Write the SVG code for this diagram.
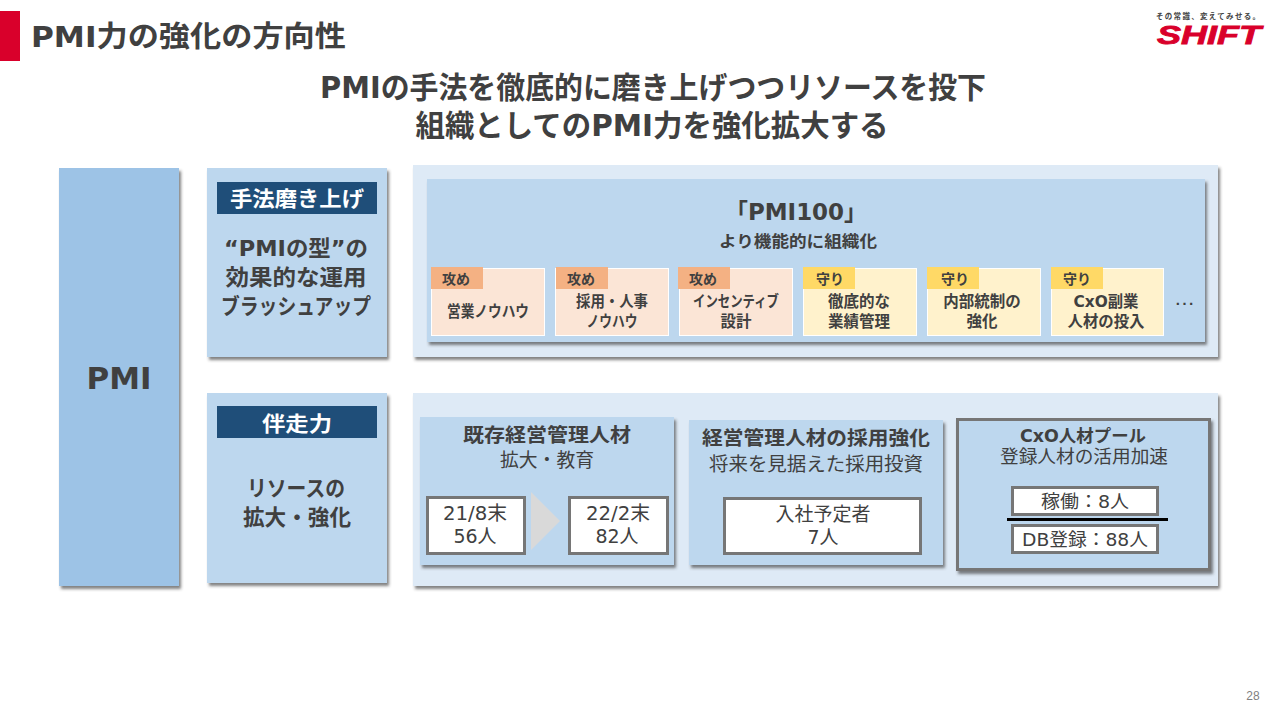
<svg xmlns="http://www.w3.org/2000/svg" width="1280" height="720" viewBox="0 0 1280 720">
<style>
text{font-family:"DejaVu Sans","Noto Sans CJK JP",sans-serif;fill:#404040;text-anchor:middle}
.b{font-weight:700}
.m{font-weight:700}
.r{font-weight:400}
.hd{fill:#1f4e79}
.ht{fill:#fff;font-size:21px}
.lt{font-size:22px}
.bl{fill:#bdd7ee}
.pale{fill:#deeaf6}
.wb{fill:#fff;stroke:#767676;stroke-width:3}
.sh{filter:url(#s)}
.o{fill:#fbe5d6;stroke:#fff;stroke-width:1}
.y{fill:#fff2cc;stroke:#fff;stroke-width:1}
.ot{fill:#f4b183}
.yt{fill:#ffd966}
.tag{font-size:14px;text-anchor:start}
.cd{font-size:15.5px}
.sub{font-size:19px}
.num{font-size:19px}
</style>
<defs>
<filter id="s" x="-5%" y="-5%" width="112%" height="112%"><feDropShadow dx="2" dy="3" stdDeviation="1.4" flood-color="#404040" flood-opacity="0.65"/></filter>
</defs>
<rect width="1280" height="720" fill="#fff"/>
<g id="header">
<rect x="0" y="11" width="20" height="50" fill="#d9002b"/>
<text class="m" x="188.500" y="47" font-size="29" textLength="315" lengthAdjust="spacingAndGlyphs">PMI力の強化の方向性</text>
<text class="m" x="653" y="98" font-size="30" textLength="666" lengthAdjust="spacingAndGlyphs">PMIの手法を徹底的に磨き上げつつリソースを投下</text>
<text class="m" x="652" y="136" font-size="30" textLength="473" lengthAdjust="spacingAndGlyphs">組織としてのPMI力を強化拡大する</text>
</g>
<g id="logo">
<text class="m" x="1208" y="19" font-size="7.500" style="fill:#444" textLength="104">その常識、変えてみせる。</text>
<text x="1209" y="44" font-size="25" font-style="italic" font-weight="700" style="font-family:'Liberation Sans',sans-serif;fill:#d9002b;stroke:#d9002b;stroke-width:.8" textLength="104" lengthAdjust="spacingAndGlyphs">SHIFT</text>
</g>
<g id="pmi"><rect class="sh" x="59" y="168" width="120" height="418" fill="#9dc3e6"/><text class="b" x="119" y="389" font-size="31" textLength="65" lengthAdjust="spacingAndGlyphs">PMI</text></g>
<g id="method">
<rect class="sh bl" x="207" y="168" width="180" height="189"/>
<rect class="hd" x="217" y="182" width="160" height="32"/>
<text class="m ht" x="297" y="206" textLength="134" lengthAdjust="spacingAndGlyphs">手法磨き上げ</text>
<text class="m lt" x="296" y="256" textLength="144" lengthAdjust="spacingAndGlyphs">“PMIの型”の</text>
<text class="m lt" x="296" y="285" textLength="141" lengthAdjust="spacingAndGlyphs">効果的な運用</text>
<text class="m lt" x="296" y="314" textLength="150" lengthAdjust="spacingAndGlyphs">ブラッシュアップ</text>
</g>
<g id="partner">
<rect class="sh bl" x="207" y="393" width="180" height="190"/>
<rect class="hd" x="217" y="406" width="160" height="32"/>
<text class="m ht" x="297" y="431" textLength="70" lengthAdjust="spacingAndGlyphs">伴走力</text>
<text class="m lt" x="296" y="496" textLength="98" lengthAdjust="spacingAndGlyphs">リソースの</text>
<text class="m lt" x="297" y="525" textLength="108" lengthAdjust="spacingAndGlyphs">拡大・強化</text>
</g>
<g id="panel-top"><rect class="sh pale" x="413" y="165" width="805" height="192"/></g>
<g id="pmi100">
<rect class="sh bl" x="427" y="179" width="778" height="163"/>
<text class="b" x="796" y="220" font-size="23" textLength="142" lengthAdjust="spacingAndGlyphs">「PMI100」</text>
<text class="m" x="798" y="247" font-size="16" textLength="158" lengthAdjust="spacingAndGlyphs">より機能的に組織化</text>
</g>
<g id="card1"><rect class="o" x="431.500" y="268.500" width="113" height="67"/><rect class="ot" x="431" y="267" width="52" height="22"/><text class="m tag" x="442" y="284">攻め</text><text class="m cd" x="488" y="317" textLength="82" lengthAdjust="spacingAndGlyphs">営業ノウハウ</text></g>
<g id="card2"><rect class="o" x="555.500" y="268.500" width="113" height="67"/><rect class="ot" x="556" y="267" width="52" height="22"/><text class="m tag" x="567" y="284">攻め</text><text class="m cd" x="612" y="307" textLength="72" lengthAdjust="spacingAndGlyphs">採用・人事</text><text class="m cd" x="612" y="327" textLength="51" lengthAdjust="spacingAndGlyphs">ノウハウ</text></g>
<g id="card3"><rect class="o" x="679.500" y="268.500" width="113" height="67"/><rect class="ot" x="678" y="267" width="52" height="22"/><text class="m tag" x="689" y="284">攻め</text><text class="m cd" x="736" y="307" textLength="86" lengthAdjust="spacingAndGlyphs">インセンティブ</text><text class="m cd" x="736" y="327">設計</text></g>
<g id="card4"><rect class="y" x="803.500" y="268.500" width="113" height="67"/><rect class="yt" x="803" y="267" width="52" height="22"/><text class="m tag" x="816" y="284">守り</text><text class="m cd" x="859" y="307">徹底的な</text><text class="m cd" x="859" y="327">業績管理</text></g>
<g id="card5"><rect class="y" x="927.500" y="268.500" width="113" height="67"/><rect class="yt" x="927" y="267" width="52" height="22"/><text class="m tag" x="941" y="284">守り</text><text class="m cd" x="982" y="307">内部統制の</text><text class="m cd" x="982" y="327">強化</text></g>
<g id="card6"><rect class="y" x="1051.500" y="268.500" width="112" height="67"/><rect class="yt" x="1051" y="267" width="52" height="22"/><text class="m tag" x="1063" y="284">守り</text><text class="m cd" x="1106" y="307" textLength="65" lengthAdjust="spacingAndGlyphs">CxO副業</text><text class="m cd" x="1106" y="327" textLength="77" lengthAdjust="spacingAndGlyphs">人材の投入</text></g>
<g id="dots"><text class="r" x="1184.500" y="305" font-size="18" textLength="20" lengthAdjust="spacingAndGlyphs">…</text></g>
<g id="panel-bottom"><rect class="sh pale" x="413" y="393" width="805" height="193"/></g>
<g id="existing">
<rect class="sh bl" x="420" y="417" width="254" height="148"/>
<text class="m" x="547" y="442" font-size="19" textLength="168" lengthAdjust="spacingAndGlyphs">既存経営管理人材</text>
<text class="r sub" x="547" y="467" textLength="94" lengthAdjust="spacingAndGlyphs">拡大・教育</text>
<rect class="wb" x="427.500" y="497.500" width="97" height="56"/>
<text class="r num" x="475" y="520" textLength="64" lengthAdjust="spacingAndGlyphs">21/8末</text><text class="r num" x="475" y="543">56人</text>
<path d="M531 492L560 521L531 550Z" fill="#d9d9d9"/>
<rect class="wb" x="569.500" y="497.500" width="98" height="56"/>
<text class="r num" x="618" y="520" textLength="64" lengthAdjust="spacingAndGlyphs">22/2末</text><text class="r num" x="617" y="543">82人</text>
</g>
<g id="hiring">
<rect class="sh bl" x="689" y="420" width="254" height="145"/>
<text class="m" x="816" y="445" font-size="19" textLength="228" lengthAdjust="spacingAndGlyphs">経営管理人材の採用強化</text>
<text class="r sub" x="816" y="471" textLength="214" lengthAdjust="spacingAndGlyphs">将来を見据えた採用投資</text>
<rect class="wb" x="724.500" y="498.500" width="196" height="55"/>
<text class="r num" x="823" y="521">入社予定者</text><text class="r num" x="823" y="544">7人</text>
</g>
<g id="cxo">
<rect class="sh bl" x="957.500" y="419.500" width="252" height="150" stroke="#767676" stroke-width="3"/>
<text class="m" x="1083" y="442" font-size="17" textLength="126" lengthAdjust="spacingAndGlyphs">CxO人材プール</text>
<text class="r" x="1084" y="463" font-size="18" textLength="168" lengthAdjust="spacingAndGlyphs">登録人材の活用加速</text>
<rect class="wb" x="1012.500" y="487.500" width="145" height="27"/>
<text class="r" x="1085" y="508" font-size="18" textLength="88" lengthAdjust="spacingAndGlyphs">稼働：8人</text>
<rect class="wb" x="1012.500" y="525.500" width="145" height="27"/>
<text class="r" x="1085" y="546" font-size="18" textLength="126" lengthAdjust="spacingAndGlyphs">DB登録：88人</text>
</g>
<g id="connectors"><line x1="1007" y1="519.500" x2="1168" y2="519.500" stroke="#000" stroke-width="3"/></g>
<text x="1253" y="700" font-size="12" style="font-family:'Liberation Sans',sans-serif;fill:#7f7f7f">28</text>
</svg>
